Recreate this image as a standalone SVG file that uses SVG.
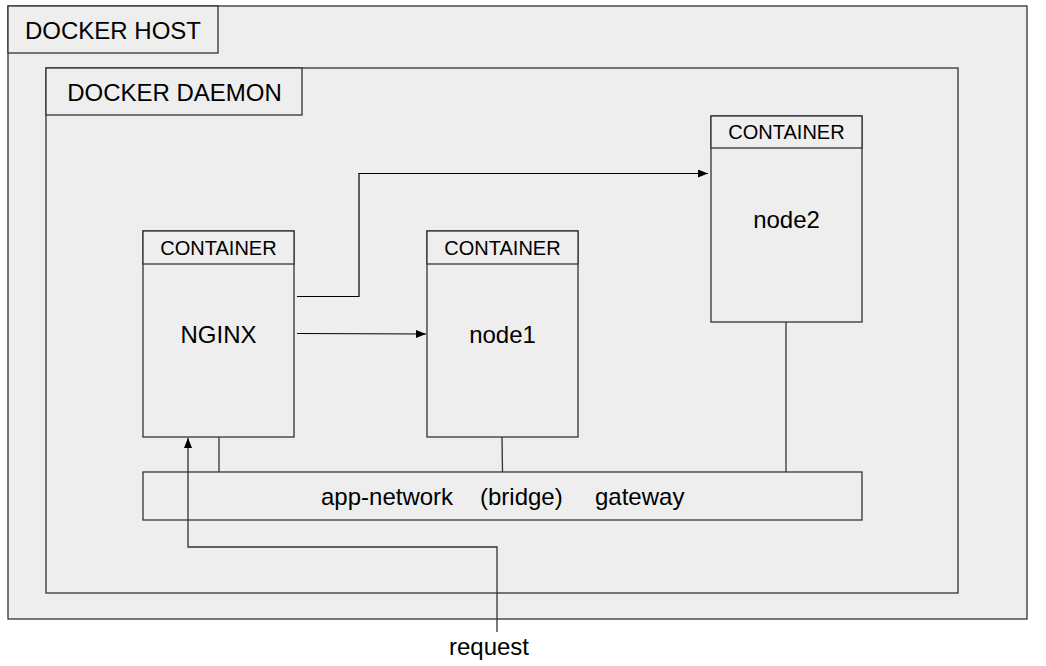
<svg xmlns="http://www.w3.org/2000/svg" width="1046" height="666" viewBox="0 0 1046 666">
<defs>
<style>
.box{fill:#eeeeee;stroke:#333333;stroke-width:1.3}
.t{font-family:"Liberation Sans",Arial,sans-serif;fill:#000}
.ln{fill:none;stroke:#000;stroke-width:1.2}
.ln2{fill:none;stroke:#333;stroke-width:1.3}
</style>
<marker id="ah" viewBox="0 0 10 8" refX="10" refY="4" markerWidth="10" markerHeight="8" markerUnits="userSpaceOnUse" orient="auto">
<path d="M0,0 L10,4 L0,8 Z" fill="#000"/>
</marker>
</defs>
<rect width="1046" height="666" fill="#ffffff"/>
<g id="host">
<rect class="box" x="8" y="6" width="1019" height="613"/>
<rect class="box" x="8" y="6" width="210" height="47"/>
<text class="t" x="113" y="39" font-size="24" text-anchor="middle">DOCKER HOST</text>
</g>
<g id="daemon">
<rect class="box" x="46" y="68" width="912" height="525"/>
<rect class="box" x="46" y="68" width="256" height="47"/>
<text class="t" x="174.5" y="101" font-size="24" text-anchor="middle">DOCKER DAEMON</text>
</g>
<g id="network">
<rect class="box" x="143" y="472" width="719" height="48"/>
<text class="t" x="321" y="505" font-size="24">app-network</text>
<text class="t" x="480" y="505" font-size="24">(bridge)</text>
<text class="t" x="595" y="505" font-size="24">gateway</text>
</g>
<g id="nginx">
<rect class="box" x="143" y="231" width="151" height="206"/>
<rect class="box" x="143" y="231" width="151" height="33"/>
<text class="t" x="218.5" y="255" font-size="20" text-anchor="middle">CONTAINER</text>
<text class="t" x="218.5" y="343" font-size="24" text-anchor="middle">NGINX</text>
</g>
<g id="node1">
<rect class="box" x="427" y="231" width="151" height="206"/>
<rect class="box" x="427" y="231" width="151" height="33"/>
<text class="t" x="502.5" y="255" font-size="20" text-anchor="middle">CONTAINER</text>
<text class="t" x="502.5" y="343" font-size="24" text-anchor="middle">node1</text>
</g>
<g id="node2">
<rect class="box" x="711" y="116" width="151" height="206"/>
<rect class="box" x="711" y="116" width="151" height="32"/>
<text class="t" x="786.5" y="139" font-size="20" text-anchor="middle">CONTAINER</text>
<text class="t" x="786.5" y="228" font-size="24" text-anchor="middle">node2</text>
</g>
<g id="connectors">
<line class="ln2" x1="219" y1="437" x2="219" y2="472"/>
<line class="ln2" x1="502" y1="437" x2="502.5" y2="472"/>
<line class="ln2" x1="786" y1="322" x2="786" y2="472"/>
<path class="ln" d="M297,333.5 L426,334" marker-end="url(#ah)"/>
<path class="ln" d="M297,296.5 L359,296.5 L359,173.5 L708,173.5" marker-end="url(#ah)"/>
<path class="ln2" d="M497,632 L497,547 L188,547 L188,438" marker-end="url(#ah)"/>
</g>
<text class="t" x="489" y="655" font-size="24" text-anchor="middle">request</text>
</svg>
